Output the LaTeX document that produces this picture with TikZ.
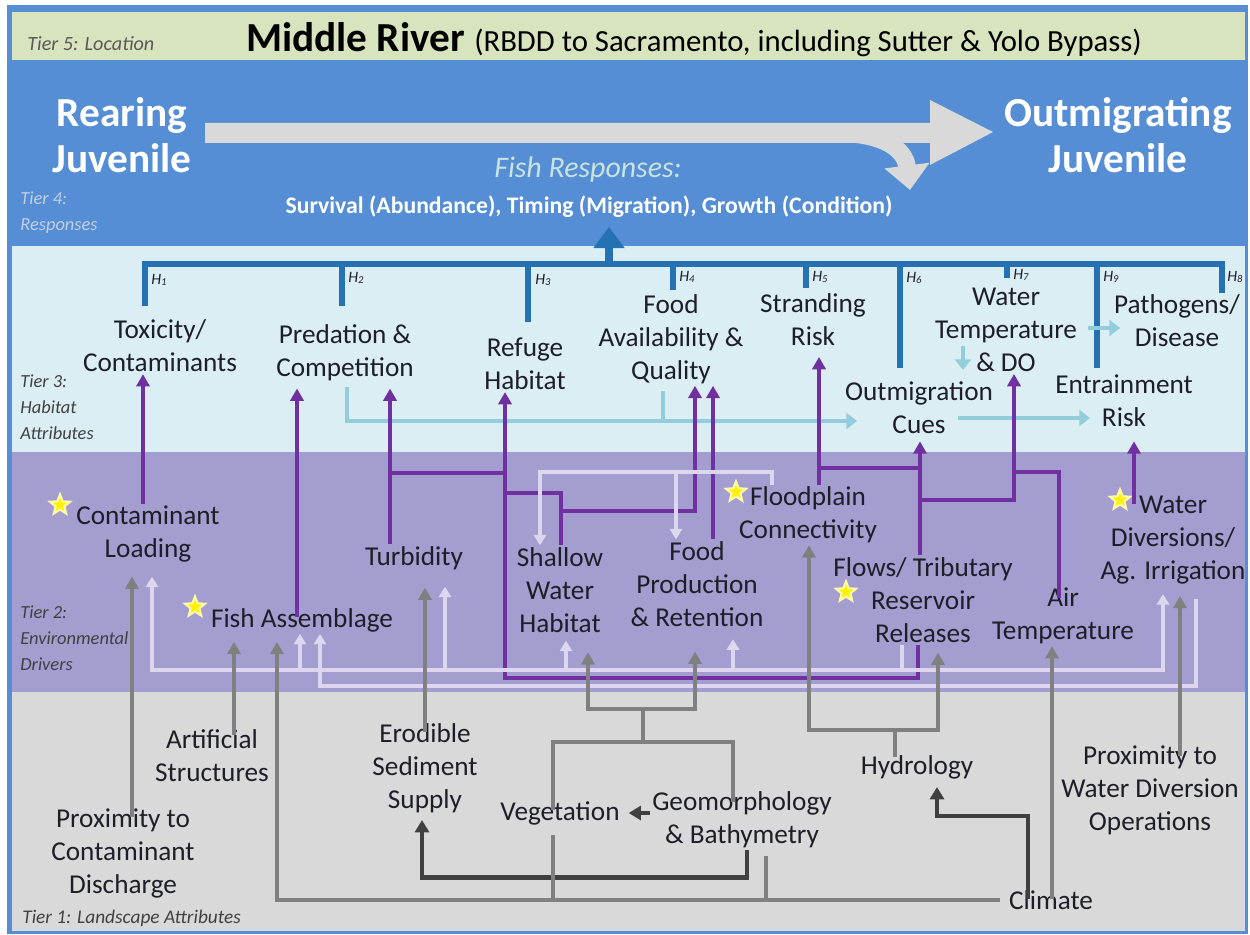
\documentclass[tikz,border=0pt]{standalone}
\usepackage{fontspec}
\setmainfont{Carlito}
\usetikzlibrary{arrows.meta,shapes.geometric,calc}
\definecolor{frameblue}{HTML}{558ED5}
\definecolor{tierfive}{HTML}{D7E4BD}
\definecolor{tierthree}{HTML}{DBEEF4}
\definecolor{tiertwo}{HTML}{A39ECF}
\definecolor{tierone}{HTML}{D9D9D9}
\definecolor{barblue}{HTML}{2471B4}
\definecolor{purp}{HTML}{7030A0}
\definecolor{paleblue}{HTML}{92CDDC}
\definecolor{palelav}{HTML}{DCD6EE}
\definecolor{midgray}{HTML}{808080}
\definecolor{darkgray}{HTML}{404040}
\definecolor{labeltext}{HTML}{1E1E28}
\definecolor{tiertext}{HTML}{404040}
\definecolor{resptext}{HTML}{C9E3DF}
\definecolor{tierfourtext}{HTML}{C3CFE2}
\definecolor{bigarrow}{HTML}{D9D9D9}

\begin{document}
\begin{tikzpicture}[x=0.02cm,y=-0.02cm,
txt/.style ={align=center, text=labeltext, inner sep=1pt,
  font=\fontsize{15.5}{18.8}\selectfont
},
tier/.style ={anchor=west, align=left, text=tiertext, inner sep=0pt,
  font=\fontsize{10.5}{14.8}\selectfont\itshape
},
hnum/.style ={anchor=west, inner sep=0pt, text=labeltext,
  font=\fontsize{9}{10}\selectfont\itshape
},
juv/.style ={align=center, text=white, inner sep=0pt,
  font=\fontsize{23.5}{26}\selectfont\bfseries
},
fav/.style ={star, star points=5, star point ratio=2.3, fill=yellow,
  draw=yellow!35, line width=1.2pt, minimum size=12pt, inner sep=0pt
},
hbar/.style ={draw=barblue, line width=3.2pt},
pu/.style ={draw=purp, line width=2.2pt, -{Triangle[length=7pt,width=7.5pt]}},
pl/.style ={draw=purp, line width=2.2pt},
lav/.style ={draw=palelav, line width=2.2pt, -{Triangle[length=6pt,width=7pt]}},
lavl/.style ={draw=palelav, line width=2.2pt},
gy/.style ={draw=midgray, line width=2.2pt, -{Triangle[length=7pt,width=7.5pt]}},
gyl/.style ={draw=midgray, line width=2.2pt},
gyb/.style ={draw=midgray, line width=2.2pt,
  {Triangle[length=7pt,width=7.5pt]}-{Triangle[length=7pt,width=7.5pt]}},
dk/.style ={draw=darkgray, line width=2.6pt, -{Triangle[length=7pt,width=8pt]}},
lb/.style ={draw=paleblue, line width=2.6pt, -{Triangle[length=6pt,width=9pt]}},
lbl/.style ={draw=paleblue, line width=2.6pt}
]
\useasboundingbox (0,0) rectangle (1250,935);
\fill[white] (0,0) rectangle (1250,935);
\fill[frameblue] (7,5) rectangle (1248,934);
\fill[tierfive] (12,12) rectangle (1245,60);
\fill[tierthree] (12,246) rectangle (1245,452);
\fill[tiertwo] (12,452) rectangle (1245,692);
\fill[tierone] (12,692) rectangle (1245,931);

\draw[bigarrow, line width=10pt, -{Triangle[length=14pt,width=25pt]}]
  (835,133) .. controls (885,133) and (905,150) .. (910,190);
\fill[bigarrow] (205,123) -- (930,123) -- (930,100) -- (993,132)
  -- (930,165) -- (930,143) -- (205,143) -- cycle;

\node (t5) at (27,44) [tier, text=black!65, font=\fontsize{11.5}{14}\selectfont\itshape] {Tier 5: Location};
\node (title) at (694,40) [inner sep=0pt, text=black]
  {\fontsize{23.5}{28}\selectfont\bfseries Middle River
   \fontsize{17.5}{21}\selectfont\mdseries (RBDD to Sacramento, including Sutter \& Yolo Bypass)};
\node (rear) at (122,135) [juv] {Rearing\\Juvenile};
\node (outm) at (1118,135) [juv] {Outmigrating\\Juvenile};
\node (t4) at (20,213) [tier, text=tierfourtext] {Tier 4:\\Responses};
\node (fr) at (588,170) [inner sep=0pt, text=resptext, font=\fontsize{17}{20}\selectfont\itshape] {Fish Responses:};
\node (resp) at (589,207) [inner sep=0pt, text=white, font=\fontsize{13.5}{16}\selectfont\bfseries]
  {Survival (Abundance), Timing (Migration), Growth (Condition)};

\node (t3) at (20,407) [tier] {Tier 3:\\Habitat\\Attributes};
\node (t2) at (20,638) [tier] {Tier 2:\\Environmental\\Drivers};
\node (t1) at (22,918) [tier, font=\fontsize{11}{13}\selectfont\itshape] {Tier 1: Landscape Attributes};

\node (tox) at (160,346) [txt] {Toxicity/\\Contaminants};
\node (pred) at (345,353) [txt] {Predation \&\\Competition};
\node (ref) at (525,364) [txt] {Refuge\\Habitat};
\node (food) at (671,339) [txt] {Food\\Availability \&\\Quality};
\node (strand) at (813,320) [txt] {Stranding\\Risk};
\node (wtemp) at (1006,330) [txt] {Water\\Temperature\\\& DO};
\node (path) at (1177,321) [txt] {Pathogens/\\Disease};
\node (cues) at (919,408) [txt] {Outmigration\\Cues};
\node (entr) at (1124,401) [txt] {Entrainment\\Risk};

\node (cl) at (148,534) [txt] {Contaminant\\Loading};
\node (fish) at (302,620) [txt] {Fish Assemblage};
\node (turb) at (414,558) [txt] {Turbidity};
\node (sw) at (560,590) [txt] {Shallow\\Water\\Habitat};
\node (fp) at (697,584) [txt] {Food\\Production\\\& Retention};
\node (flood) at (808,515) [txt] {Floodplain\\Connectivity};
\node (flows) at (923,600) [txt] {Flows/ Tributary\\Reservoir\\Releases};
\node (air) at (1063,616) [txt] {Air\\Temperature};
\node (wd) at (1173,540) [txt] {Water\\Diversions/\\Ag. Irrigation};

\node (pcd) at (123,853) [txt] {Proximity to\\Contaminant\\Discharge};
\node (art) at (212,756) [txt] {Artificial\\Structures};
\node (sed) at (425,768) [txt] {Erodible\\Sediment\\Supply};
\node (veg) at (560,813) [txt] {Vegetation};
\node (geo) at (742,820) [txt] {Geomorphology\\\& Bathymetry};
\node (hyd) at (917,767) [txt] {Hydrology};
\node (pwd) at (1150,790) [txt] {Proximity to\\Water Diversion\\Operations};
\node (clim) at (1051,900) [txt] {Climate};

\node (s1) at (60,505) [fav] {};
\node (s2) at (195,607) [fav] {};
\node (s3) at (736,492) [fav] {};
\node (s4) at (846,592) [fav] {};
\node (s5) at (1120,500) [fav] {};

\coordinate (top) at (609,264);
\coordinate (k1) at (145,306);
\coordinate (k2) at (342,306);
\coordinate (k3) at (528,322);
\coordinate (k4) at (673,290);
\coordinate (k5) at (806,288);
\coordinate (k6) at (900,368);
\coordinate (k7) at (1007,278);
\coordinate (k9) at (1097,368);
\coordinate (k8) at (1222,293);
\draw[hbar] (k1) -- (k1 |- top) -- (k8 |- top) -- (k8);
\foreach \k in {k2,k3,k4,k5,k6,k7,k9}
  \draw[hbar] (\k |- top) -- (\k);
\draw[hbar, line width=4.5pt, -{Triangle[length=12pt,width=17pt]}, shorten >=5pt] (top) -- (resp.south -| top);
\node (h1) at (151,280) [hnum] {H\textsubscript{1}};
\node (h2) at (348,278) [hnum] {H\textsubscript{2}};
\node (h3) at (535,280) [hnum] {H\textsubscript{3}};
\node (h4) at (679,277) [hnum] {H\textsubscript{4}};
\node (h5) at (812,277) [hnum] {H\textsubscript{5}};
\node (h6) at (906,278) [hnum] {H\textsubscript{6}};
\node (h7) at (1013,275) [hnum] {H\textsubscript{7}};
\node (h9) at (1103,277) [hnum] {H\textsubscript{9}};
\node (h8) at (1227,277) [hnum] {H\textsubscript{8}};

\draw[lb, shorten <=2pt, shorten >=-8pt] (pred.south -| 347,0) |- (cues.west |- 0,421);
\draw[lbl, shorten <=3pt] (food.south -| 663,0) -- (663,421);
\draw[lb] ($(cues)+(39,10)$) -- ($(entr)+(-34,17)$);
\draw[lb] ($(wtemp)+(82,-2)$) -- ($(path)+(-57,7)$);
\draw[lb] ($(wtemp)+(-43,16)$) -- ($(cues)+(44,-38)$);

\draw[pu] (cl.north -| 143,0) -- (tox.south -| 143,0);
\draw[pu, shorten <=-6pt, shorten >=3pt] (fish.north -| 297,0) -- (pred.south -| 297,0);
\draw[pu, shorten >=3pt] (turb.north -| 390,0) -- (pred.south -| 390,0);
\draw[pl] (390,473) -- (505,473);
\draw[pu] (flows.south -| 918,0) |- (505,678) -- (ref.south -| 505,0);
\draw[pl] (sw.north -| 561,0) |- (505,493);
\draw[pu] (561,511) -| (food.south -| 695,0);
\draw[pu] (fp.north -| 713,0) -- (food.south -| 713,0);
\draw[pu, shorten >=5pt] (flood.north -| 819,0) -- (strand.south -| 819,0);
\draw[pu, shorten >=3pt] (flows.north -| 920,0) -- (cues.south -| 920,0);
\draw[pl] (920,468) -- (819,468);
\draw[pu] (920,500) -| (wtemp.south -| 1014,0);
\draw[pl, shorten <=-7pt] (air.north -| 1059,0) |- (1014,472);
\draw[pu, shorten <=-6pt, shorten >=7pt] (wd.north -| 1134,0) -- (entr.south -| 1134,0);

\draw[lav] (flood.north -| 772,0) |- (540,472) -- (sw.north -| 540,0);
\draw[lav] (676,472) -- (fp.north -| 676,0);
\draw[lav, shorten >=7pt] (flows.south -| 902,0) |- (152,670) -- (cl.south -| 152,0);
\draw[lav, shorten >=4.5pt] (902,670) -| (wd.south -| 1163,0);
\draw[lav] (300,670) -- (fish.south -| 300,0);
\draw[lav, shorten >=8.5pt] (445,670) -- (turb.south -| 445,0);
\draw[lav, shorten >=3.4pt] (566,670) -- (sw.south -| 566,0);
\draw[lav, shorten >=6pt] (733,670) -- (fp.south -| 733,0);
\draw[lav, shorten <=7pt] (wd.south -| 1196,0) |- (320,686) -- (fish.south -| 320,0);

\draw[gy, shorten <=-6pt, shorten >=7pt] (pcd.north -| 132,0) -- (cl.south -| 132,0);
\draw[gy, shorten <=-4pt, shorten >=4.5pt] (art.north -| 234,0) -- (fish.south -| 234,0);
\draw[gy, shorten <=4pt, shorten >=4.5pt] (clim.west) -| (fish.south -| 277,0);
\draw[gy, shorten <=-6pt, shorten >=9pt] (sed.north -| 425,0) -- (turb.south -| 425,0);
\draw[gyl, shorten <=-6pt, shorten >=-7pt] (veg.north -| 553,0) -- (553,742) -- (733,742) -- (geo.north -| 733,0);
\draw[gyl] (643,742) -- (643,709);
\draw[gy, shorten >=10pt] (643,709) -| (sw.south -| 588,0);
\draw[gy, shorten >=13pt] (643,709) -| (fp.south -| 695,0);
\draw[dk, shorten >=3pt] (geo.south -| 747,0) -- ++(0,27) -| (sed.south -| 422,0);
\draw[dk, shorten >=4pt] (geo.west |- veg.east) -- (veg.east);
\draw[gyl, shorten >=4.5pt] (clim.west -| 553,0) -- (veg.south -| 553,0);
\draw[gyl, shorten >=3pt] (clim.west -| 766,0) -- (geo.south -| 766,0);
\draw[gyb, shorten >=4.5pt] (flood.south -| 809,0) -- (809,730) -| (flows.south -| 938,0);
\draw[gyl, shorten <=-2pt] (hyd.north -| 895,0) -- (895,730);
\draw[dk, shorten <=-6pt, shorten >=3.5pt] (clim.north -| 1028,0) |- (937,816) -- (hyd.south -| 937,0);
\draw[gy, shorten <=-6pt] (clim.north -| 1052,0) -- (air.south -| 1052,0);
\draw[gy, shorten <=-7pt, shorten >=5.5pt] (pwd.north -| 1180,0) -- (wd.south -| 1180,0);
\end{tikzpicture}
\end{document}
